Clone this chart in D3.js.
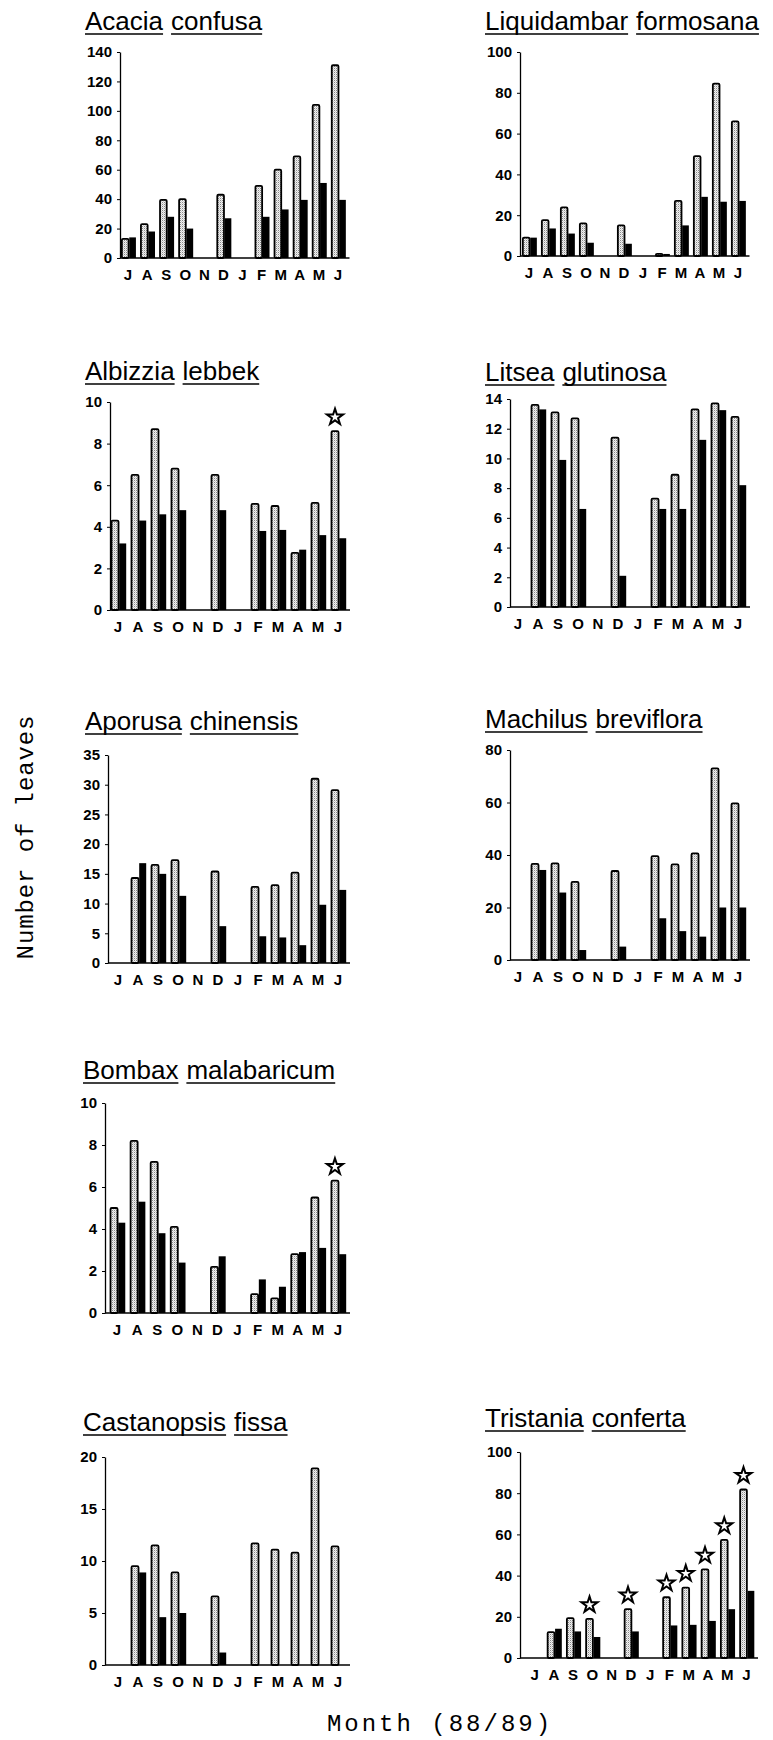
<!DOCTYPE html>
<html lang="en">
  <head>
    <meta charset="UTF-8" />
    <title>Number of leaves per month</title>
    <style>
      body { margin: 0; background: #fff; }
      .title { font: 26px "Liberation Sans", Arial, sans-serif; }
      .tick text { font: bold 15px "Liberation Sans", Arial, sans-serif; }
      .month { font: bold 15px "Liberation Sans", Arial, sans-serif; text-anchor: middle; }
      .mono { font-family: "Liberation Mono", "Courier New", monospace; }
    </style>
  </head>
  <body>
    <svg width="773" height="1740"></svg>

    <script src="https://cdn.jsdelivr.net/npm/d3@7"></script>

    <script>
      // months of the 88/89 season, July to June
      const months = ["J", "A", "S", "O", "N", "D", "J", "F", "M", "A", "M", "J"];

      const speciesNames = [
        "Acacia confusa", "Liquidambar formosana",
        "Albizzia lebbek", "Litsea glutinosa",
        "Aporusa chinensis", "Machilus breviflora",
        "Bombax malabaricum", "Castanopsis fissa",
        "Tristania conferta"
      ];

      // stippled bars
      const acaciaLight      = [13, 23, 39.5, 40, 0, 43, 0, 49, 60, 69, 104, 131];
      const liquidambarLight = [9, 17.6, 23.8, 16, 0, 15, 0, 1, 27, 49, 84.5, 66];
      const albizziaLight    = [4.3, 6.5, 8.7, 6.8, 0, 6.5, 0, 5.1, 5.0, 2.75, 5.15, 8.6];
      const litseaLight      = [0, 13.6, 13.1, 12.7, 0, 11.4, 0, 7.3, 8.9, 13.3, 13.7, 12.8];
      const aporusaLight     = [0, 14.3, 16.5, 17.3, 0, 15.4, 0, 12.8, 13.1, 15.2, 31, 29.1];
      const machilusLight    = [0, 36.6, 36.8, 29.8, 0, 33.9, 0, 39.6, 36.4, 40.6, 73, 59.7];
      const bombaxLight      = [5.0, 8.2, 7.2, 4.1, 0, 2.2, 0, 0.9, 0.7, 2.8, 5.5, 6.3];
      const castanopsisLight = [0, 9.5, 11.5, 8.9, 0, 6.6, 0, 11.7, 11.1, 10.8, 18.9, 11.4];
      const tristaniaLight   = [0, 12.6, 19.4, 19, 0, 23.7, 0, 29.5, 34.2, 43, 57.3, 81.8];

      // solid black bars
      const acaciaDark      = [14, 18, 28, 20, 0, 27, 0, 28, 33, 39.5, 51, 39.5];
      const liquidambarDark = [9, 13.5, 11, 6.5, 0, 6, 0, 1, 15, 29, 26.6, 27];
      const albizziaDark    = [3.2, 4.3, 4.6, 4.8, 0, 4.8, 0, 3.8, 3.85, 2.9, 3.6, 3.45];
      const litseaDark      = [0, 13.3, 9.9, 6.6, 0, 2.1, 0, 6.6, 6.6, 11.25, 13.25, 8.2];
      const aporusaDark     = [0, 16.8, 15, 11.3, 0, 6.2, 0, 4.5, 4.3, 3.0, 9.8, 12.3];
      const machilusDark    = [0, 34.3, 25.7, 3.8, 0, 5.1, 0, 15.9, 11, 8.9, 20, 20];
      const bombaxDark      = [4.3, 5.3, 3.8, 2.4, 0, 2.7, 0, 1.6, 1.25, 2.9, 3.1, 2.8];
      const castanopsisDark = [0, 8.9, 4.6, 5.0, 0, 1.2, 0, 0, 0, 0, 0, 0];
      const tristaniaDark   = [0, 14.2, 12.9, 10.2, 0, 12.9, 0, 15.8, 16.1, 18, 23.7, 32.6];

      // months marked with a star
      const albizziaStars = [11];
      const bombaxStars = [11];
      const tristaniaStars = [3, 5, 7, 8, 9, 10, 11];

      // y axis ticks
      const acaciaTicks      = [0, 20, 40, 60, 80, 100, 120, 140];
      const liquidambarTicks = [0, 20, 40, 60, 80, 100];
      const albizziaTicks    = [0, 2, 4, 6, 8, 10];
      const litseaTicks      = [0, 2, 4, 6, 8, 10, 12, 14];
      const aporusaTicks     = [0, 5, 10, 15, 20, 25, 30, 35];
      const machilusTicks    = [0, 20, 40, 60, 80];
      const bombaxTicks      = [0, 2, 4, 6, 8, 10];
      const castanopsisTicks = [0, 5, 10, 15, 20];
      const tristaniaTicks   = [0, 20, 40, 60, 80, 100];

      const lights = [acaciaLight, liquidambarLight, albizziaLight, litseaLight, aporusaLight,
        machilusLight, bombaxLight, castanopsisLight, tristaniaLight];
      const darks = [acaciaDark, liquidambarDark, albizziaDark, litseaDark, aporusaDark,
        machilusDark, bombaxDark, castanopsisDark, tristaniaDark];
      const stars = [[], [], albizziaStars, [], [], [], bombaxStars, [], tristaniaStars];
      const ticks = [acaciaTicks, liquidambarTicks, albizziaTicks, litseaTicks, aporusaTicks,
        machilusTicks, bombaxTicks, castanopsisTicks, tristaniaTicks];

      // where each small chart sits on the page
      const layout = [
        { axisX: 120, x0: 118.5, x1: 347.5, top: 52, zero: 258, titleX: 85, titleY: 30 },
        { axisX: 520, x0: 519.5, x1: 747.5, top: 52, zero: 256, titleX: 485, titleY: 30 },
        { axisX: 110, x0: 108, x1: 348, top: 402, zero: 610, titleX: 85, titleY: 380 },
        { axisX: 510, x0: 508, x1: 748, top: 399, zero: 607, titleX: 485, titleY: 381 },
        { axisX: 108, x0: 108, x1: 348, top: 755, zero: 963, titleX: 85, titleY: 730 },
        { axisX: 510, x0: 508, x1: 748, top: 750, zero: 960, titleX: 485, titleY: 728 },
        { axisX: 105, x0: 107, x1: 348, top: 1103, zero: 1313, titleX: 83, titleY: 1079 },
        { axisX: 105, x0: 108, x1: 348, top: 1457, zero: 1665, titleX: 83, titleY: 1431 },
        { axisX: 520, x0: 525, x1: 756, top: 1452, zero: 1658, titleX: 485, titleY: 1427 }
      ];

      const svg = d3.select("svg");

      // stipple pattern for the light bars
      const pat = svg.append("defs").append("pattern")
        .attr("id", "stipple")
        .attr("patternUnits", "userSpaceOnUse")
        .attr("width", 2).attr("height", 2);
      pat.append("rect").attr("width", 2).attr("height", 2).attr("fill", "#f2f2f2");
      pat.append("rect").attr("width", 1).attr("height", 1).attr("fill", "#8a8a8a");
      pat.append("rect").attr("x", 1).attr("y", 1).attr("width", 1).attr("height", 1).attr("fill", "#cccccc");

      const star = d3.symbol().type(d3.symbolStar).size(80);

      speciesNames.forEach((name, p) => {
        const L = layout[p];
        const tk = ticks[p];
        const g = svg.append("g");

        const x = d3.scaleBand().domain(d3.range(months.length)).range([L.x0, L.x1]);
        const y = d3.scaleLinear().domain([0, tk[tk.length - 1]]).range([L.zero, L.top]);
        const bw = x.bandwidth() * 0.35;
        const cx = (i) => x(i) + x.bandwidth() / 2;

        // title, each word underlined on its own
        const words = name.split(" ");
        let tx = L.titleX;
        words.forEach((w) => {
          const t = g.append("text").attr("class", "title")
            .attr("x", tx).attr("y", L.titleY).text(w);
          const len = t.node().getComputedTextLength();
          g.append("line")
            .attr("x1", tx).attr("x2", tx + len)
            .attr("y1", L.titleY + 4).attr("y2", L.titleY + 4)
            .attr("stroke", "#000").attr("stroke-width", 1.5);
          tx += len + 8;
        });

        // bars
        g.selectAll(".light")
          .data(lights[p].map((v, i) => ({ v, i })).filter((d) => d.v > 0))
          .enter().append("rect")
          .attr("x", (d) => cx(d.i) - bw + 0.5)
          .attr("y", (d) => y(d.v))
          .attr("width", bw)
          .attr("height", (d) => L.zero - y(d.v))
          .attr("fill", "url(#stipple)")
          .attr("stroke", "#000").attr("stroke-width", 1.8)
          .attr("rx", 1.2);

        g.selectAll(".dark")
          .data(darks[p].map((v, i) => ({ v, i })).filter((d) => d.v > 0))
          .enter().append("rect")
          .attr("x", (d) => cx(d.i) + 1.2)
          .attr("y", (d) => y(d.v))
          .attr("width", bw)
          .attr("height", (d) => L.zero - y(d.v))
          .attr("fill", "#000");

        // stars
        g.selectAll(".star")
          .data(stars[p])
          .enter().append("path")
          .attr("d", star)
          .attr("transform", (i) => `translate(${cx(i) - bw / 2 + 0.5},${y(lights[p][i]) - 14})`)
          .attr("fill", "#fff").attr("stroke", "#000").attr("stroke-width", 2);

        // axes
        const yAxis = g.append("g")
          .attr("transform", `translate(${L.axisX},0)`)
          .call(d3.axisLeft(y).tickValues(tk).tickSize(3).tickPadding(5).tickSizeOuter(0));
        yAxis.select(".domain").attr("stroke-width", 1.3);

        g.append("line")
          .attr("x1", L.axisX).attr("x2", L.x1 + 2)
          .attr("y1", L.zero).attr("y2", L.zero)
          .attr("stroke", "#000").attr("stroke-width", 1.6);

        g.selectAll(".month")
          .data(months)
          .enter().append("text")
          .attr("class", "month")
          .attr("x", (d, i) => cx(i))
          .attr("y", L.zero + 22)
          .text((d) => d);
      });

      svg.append("text")
        .attr("class", "mono")
        .attr("transform", "translate(33,837) rotate(-90)")
        .attr("text-anchor", "middle")
        .style("font-size", "24px")
        .style("letter-spacing", "0.9px")
        .text("Number of leaves");

      svg.append("text")
        .attr("class", "mono")
        .attr("x", 440).attr("y", 1731)
        .attr("text-anchor", "middle")
        .style("font-size", "24px")
        .style("letter-spacing", "3px")
        .text("Month (88/89)");
    </script>
  </body>
</html>
